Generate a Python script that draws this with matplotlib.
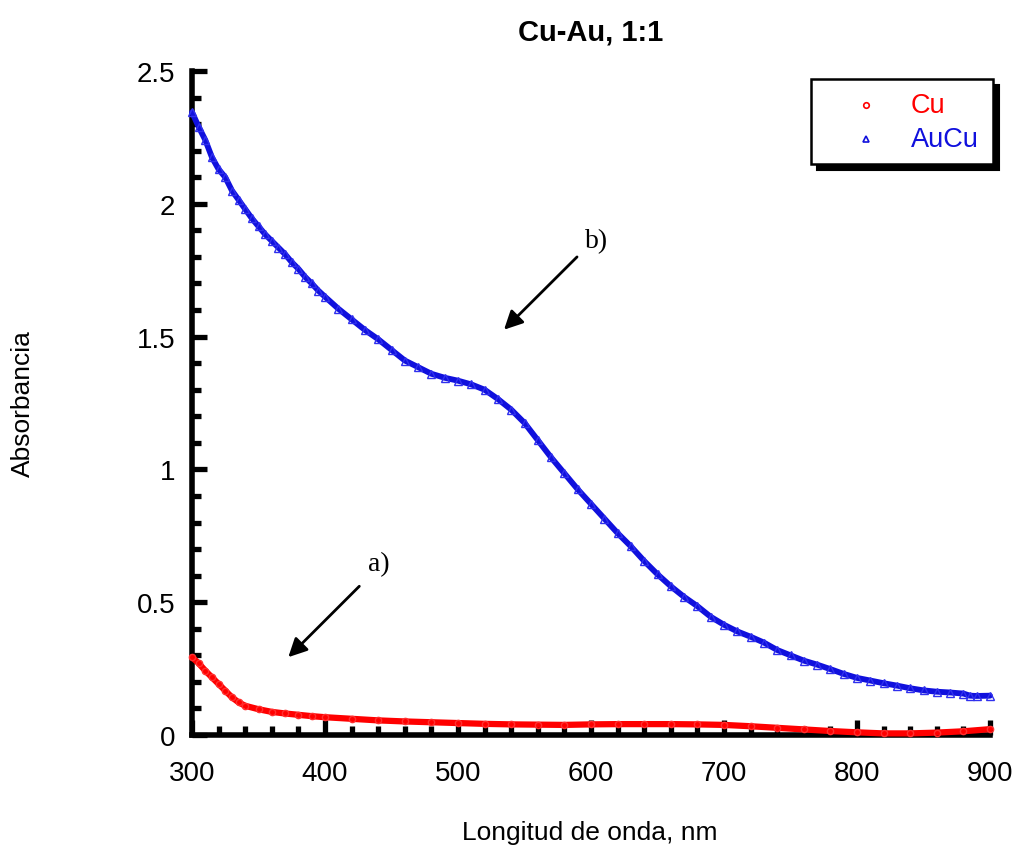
import matplotlib
matplotlib.use("Agg")
import matplotlib.pyplot as plt
from matplotlib.patches import Rectangle
from matplotlib.lines import Line2D
from matplotlib.ticker import MultipleLocator

plt.rcParams['font.family'] = ['Liberation Sans', 'DejaVu Sans']

# ---- data ----
wl_aucu = [300, 305, 310, 315, 320, 325, 330, 335, 340, 345, 350, 355, 360, 365, 370,
           375, 380, 385, 390, 395, 400, 410, 420, 430, 440, 450, 460, 470, 480, 490,
           500, 510, 520, 530, 540, 550, 560, 570, 580, 590, 600, 610, 620, 630, 640,
           650, 660, 670, 680, 690, 700, 710, 720, 730, 740, 750, 760, 770, 780, 790,
           800, 810, 820, 830, 840, 850, 860, 870, 880, 885, 890, 900]
abs_aucu = [2.345, 2.29, 2.24, 2.175, 2.13, 2.10, 2.05, 2.015, 1.98, 1.945, 1.915, 1.885,
            1.86, 1.835, 1.81, 1.78, 1.755, 1.725, 1.70, 1.673, 1.65, 1.605, 1.565, 1.525,
            1.49, 1.45, 1.41, 1.385, 1.36, 1.345, 1.334, 1.32, 1.30, 1.265, 1.225, 1.175,
            1.11, 1.045, 0.985, 0.925, 0.87, 0.815, 0.76, 0.71, 0.655, 0.605, 0.56, 0.52,
            0.485, 0.445, 0.415, 0.39, 0.37, 0.348, 0.32, 0.30, 0.28, 0.265, 0.248, 0.23,
            0.215, 0.205, 0.195, 0.186, 0.176, 0.168, 0.163, 0.16, 0.156, 0.148, 0.147, 0.148]

wl_cu = [300, 305, 310, 315, 320, 325, 330, 335, 340, 350, 360, 370, 380, 390, 400,
         420, 440, 460, 480, 500, 520, 540, 560, 580, 600, 620, 640, 660, 680, 700,
         720, 740, 760, 780, 800, 820, 840, 860, 880, 900]
abs_cu = [0.293, 0.27, 0.242, 0.217, 0.192, 0.167, 0.142, 0.123, 0.11, 0.097, 0.087,
          0.081, 0.076, 0.071, 0.067, 0.061, 0.055, 0.051, 0.048, 0.045, 0.042, 0.040,
          0.039, 0.038, 0.040, 0.041, 0.041, 0.041, 0.040, 0.038, 0.033, 0.027, 0.021,
          0.015, 0.010, 0.006, 0.006, 0.009, 0.014, 0.022]

series_labels = ['Cu', 'AuCu']
title = 'Cu-Au, 1:1'
xlabel = 'Longitud de onda, nm'
ylabel = 'Absorbancia'

RED = '#ff0000'
BLUE = '#1010dd'

W, H = 1017, 853
fig = plt.figure(figsize=(W / 100, H / 100), dpi=100)
ax = fig.add_axes([192 / W, 1 - 736 / H, (990 - 192) / W, (736 - 72) / H])

ax.plot(wl_aucu, abs_aucu, color=BLUE, lw=4.2, marker='^', ms=5.5, mfc='none',
        mec='#3030ee', mew=1.0, clip_on=False, zorder=3, solid_capstyle='round')
ax.plot(wl_cu, abs_cu, color=RED, lw=4.5, marker='o', ms=4.5, mfc='none',
        mec='#ff3030', mew=1.0, clip_on=False, zorder=3, solid_capstyle='round')

ax.set_xlim(300, 900)
ax.set_ylim(0, 2.5)
ax.xaxis.set_major_locator(MultipleLocator(100))
ax.xaxis.set_minor_locator(MultipleLocator(20))
ax.yaxis.set_major_locator(MultipleLocator(0.5))
ax.yaxis.set_minor_locator(MultipleLocator(0.1))
ax.set_yticks([0, 0.5, 1, 1.5, 2, 2.5])
ax.set_yticklabels(['0', '0.5', '1', '1.5', '2', '2.5'])

for s in ['top', 'right']:
    ax.spines[s].set_visible(False)
for s in ['left', 'bottom']:
    ax.spines[s].set_linewidth(4.0)
    ax.spines[s].set_capstyle('projecting')

ax.tick_params(axis='both', which='major', direction='in', length=11, width=3.8,
               labelsize=20, color='black')
ax.tick_params(axis='both', which='minor', direction='in', length=6.5, width=3.8,
               color='black')
ax.tick_params(axis='y', which='both', right=False, pad=12)
ax.tick_params(axis='x', which='both', top=False, pad=18)

ax.set_title(title, fontsize=21, fontweight='bold', pad=23)
ax.set_xlabel(xlabel, fontsize=19)
ax.set_ylabel(ylabel, fontsize=19)
ax.xaxis.set_label_coords(0.499, -0.128)
ax.yaxis.set_label_coords(-0.197, 0.5)

# annotations
arrow_kw = dict(arrowstyle='-|>', mutation_scale=28, lw=2, color='black',
                shrinkA=0, shrinkB=0)
ax.annotate('', xy=(372.4, 0.293), xytext=(425.8, 0.56), arrowprops=arrow_kw)
ax.annotate('', xy=(534.6, 1.526), xytext=(589.5, 1.80), arrowprops=arrow_kw)
ax.text(440.6, 0.644, 'a)', fontsize=20, family=['Liberation Serif', 'DejaVu Serif'],
        ha='center', va='center')
ax.text(604.5, 1.86, 'b)', fontsize=20, family=['Liberation Serif', 'DejaVu Serif'],
        ha='center', va='center')

# legend box with shadow
def px(x, y):
    return x / W, 1 - y / H

x0, y0 = px(811, 165)
bw, bh = (993 - 811) / W, (165 - 80) / H
sx, sy = px(817, 171)
fig.add_artist(Rectangle((sx, sy), bw, bh, transform=fig.transFigure,
                         facecolor='black', edgecolor='black', lw=1.5, zorder=5))
fig.add_artist(Rectangle((x0, y0), bw, bh, transform=fig.transFigure,
                         facecolor='white', edgecolor='black', lw=1.8, zorder=6))
mx, my1 = px(866, 106)
_, my2 = px(866, 140)
fig.add_artist(Line2D([mx], [my1], transform=fig.transFigure, marker='o', ms=4,
                      mfc='none', mec=RED, mew=1.2, ls='none', zorder=7))
fig.add_artist(Line2D([mx], [my2], transform=fig.transFigure, marker='^', ms=4,
                      mfc='none', mec=BLUE, mew=1.2, ls='none', zorder=7))
tx, _ = px(911, 0)
fig.text(tx, my1, series_labels[0], color=RED, fontsize=19.5, ha='left', va='center', zorder=7)
fig.text(tx, my2, series_labels[1], color=BLUE, fontsize=19.5, ha='left', va='center', zorder=7)

fig.savefig('out.png', dpi=100)
